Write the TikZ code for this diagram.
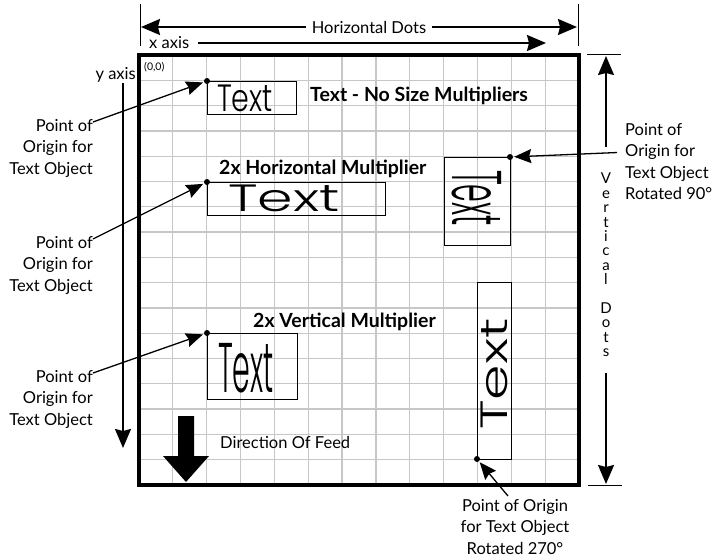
\documentclass[tikz,border=0pt]{standalone}
\usepackage{fontspec}
\setmainfont{Lato}
\newfontfamily\geofont{Poppins Light}
\usetikzlibrary{arrows.meta, positioning}
\tikzstyle{gridline}=[draw=black!22, line width=1.3pt]
\tikzstyle{frame}=[line width=3.2pt]
\tikzstyle{note}=[font=\fontsize{16.5}{21.5}\selectfont, inner sep=0pt]
\tikzstyle{heading}=[font=\bfseries\fontsize{19.5}{22}\selectfont, inner sep=0pt, anchor=base west]
\tikzstyle{objbox}=[draw, line width=1.1pt, inner sep=0pt, anchor=north west]
\tikzstyle{sample}=[font=\geofont\fontsize{38}{38}\selectfont, inner sep=0pt, anchor=base west]
\tikzstyle{origin}=[fill, circle, inner sep=0pt, minimum size=6pt]
\tikzstyle{pointer}=[-{Stealth[length=17pt, width=14pt, inset=2pt]}, line width=1.3pt, shorten >=1pt]
\tikzstyle{bigarrow}=[-{Stealth[length=19pt, width=16pt, inset=2pt]}, line width=1.7pt]

\begin{document}
\begin{tikzpicture}[x=1pt, y=-1pt]
  \useasboundingbox (0,0) rectangle (720,559);
  % grid
  \foreach \i in {1,...,12}
    \draw[gridline] ({139+\i*440/13},55) -- ++(0,430);
  \foreach \j in {1,...,16}
    \draw[gridline] (139,{55+\j*430/17}) -- ++(440,0);
  \draw[frame] (139,55) rectangle (579,485);

  % horizontal dots
  \draw[line width=1pt] (140,4) -- (140,46) (578,4) -- (578,46);
  \node[note] (hdots) at (369,27) {Horizontal Dots};
  \coordinate (hleft) at (141,27);
  \coordinate (hright) at (577,27);
  \draw[bigarrow] ([xshift=-6pt]hdots.west) -- (hleft);
  \draw[bigarrow] ([xshift=6pt]hdots.east) -- (hright);

  % x axis and y axis
  \node[note, anchor=west] (xaxis) at (149,43) {x axis};
  \coordinate (xend) at (546,43);
  \draw[bigarrow] ([xshift=9pt]xaxis.east) -- (xend);
  \node[note, anchor=east] (yaxis) at (136,75) {y axis};
  \coordinate (yend) at (123,448);
  \draw[bigarrow] (yaxis.south -| yend) -- (yend);
  \node[font=\fontsize{10.5}{12}\selectfont, inner sep=0pt, anchor=west] (zero) at (144,67) {(0,0)};

  % text objects
  \node[objbox, minimum width=89pt, minimum height=33pt] (box1) at (207,81) {};
  \node[objbox, minimum width=178pt, minimum height=33pt] (box2) at (207,182) {};
  \node[objbox, minimum width=90pt, minimum height=66pt] (box3) at (207,333) {};
  \node[objbox, minimum width=66pt, minimum height=88pt] (box4) at (444,157) {};
  \node[objbox, minimum width=34pt, minimum height=177pt] (box5) at (477,282) {};
  \node[sample, xscale=.75] (text1) at (217,112) {Text};
  \node[sample, xscale=1.5] (text2) at (228,211) {Text};
  \node[sample, xscale=.75, yscale=1.85] (text3) at (218,392) {Text};
  \node[sample, rotate=-90, xscale=.75, yscale=1.85] (text4) at (452,170) {Text};
  \node[sample, rotate=90, xscale=1.5] (text5) at (507,430) {Text};

  % points of origin
  \node[origin] (o1) at (207,81) {};
  \node[origin] (o2) at (207,182) {};
  \node[origin] (o3) at (207,333) {};
  \node[origin] (o4) at (510,157) {};
  \node[origin] (o5) at (477,459) {};

  \node[note, align=right, anchor=north east] (lbla) at (93,119) {Point of\\Origin for\\Text Object};
  \node[note, align=right, anchor=north east] (lblb) at (93,236) {Point of\\Origin for\\Text Object};
  \node[note, align=right, anchor=north east] (lblc) at (93,370) {Point of\\Origin for\\Text Object};
  \node[note, align=left, anchor=north west] (lblrot) at (625,123) {Point of\\Origin for\\Text Object\\Rotated 90°};
  \node[note, align=center, anchor=north] (lblbot) at (515,499) {Point of Origin\\for Text Object\\Rotated 270°};
  \draw[pointer] ([yshift=-3pt]lbla.north east) -- (o1);
  \draw[pointer] ([yshift=-3pt]lblb.north east) -- (o2);
  \draw[pointer] ([yshift=-3pt]lblc.north east) -- (o3);
  \draw[pointer] ([shift={(-8pt,9pt)}]lblrot.west) -- (o4);
  \draw[pointer] ([shift={(-7pt,3pt)}]lblbot.north) -- (o5);

  % headings
  \node[heading] (head1) at (310,102) {Text - No Size Multipliers};
  \node[heading] (head2) at (219,175) {2x Horizontal Multiplier};
  \node[heading] (head3) at (253,327) {2x Vertical Multiplier};

  % direction of feed
  \fill (178,416) -- (194,416) -- (194,456) -- (209,456) -- (186,482) -- (163,456) -- (178,456) -- cycle;
  \node[note, anchor=base west] (feed) at (220,448) {Direction Of Feed};

  % vertical dots
  \draw[line width=1pt] (587,55) -- (621,55) (588,485) -- (622,485);
  \node[font=\fontsize{15}{14.4}\selectfont, inner sep=0pt, align=center, anchor=north] (vdots) at (606,173) {V\\e\\r\\t\\i\\c\\a\\l\\[14.4pt]D\\o\\t\\s};
  \coordinate (vtop) at (606,56);
  \coordinate (vbot) at (606,484);
  \draw[bigarrow] ([yshift=26pt]vdots.north) -- (vtop);
  \draw[bigarrow] ([yshift=-16pt]vdots.south) -- (vbot);
\end{tikzpicture}
\end{document}
